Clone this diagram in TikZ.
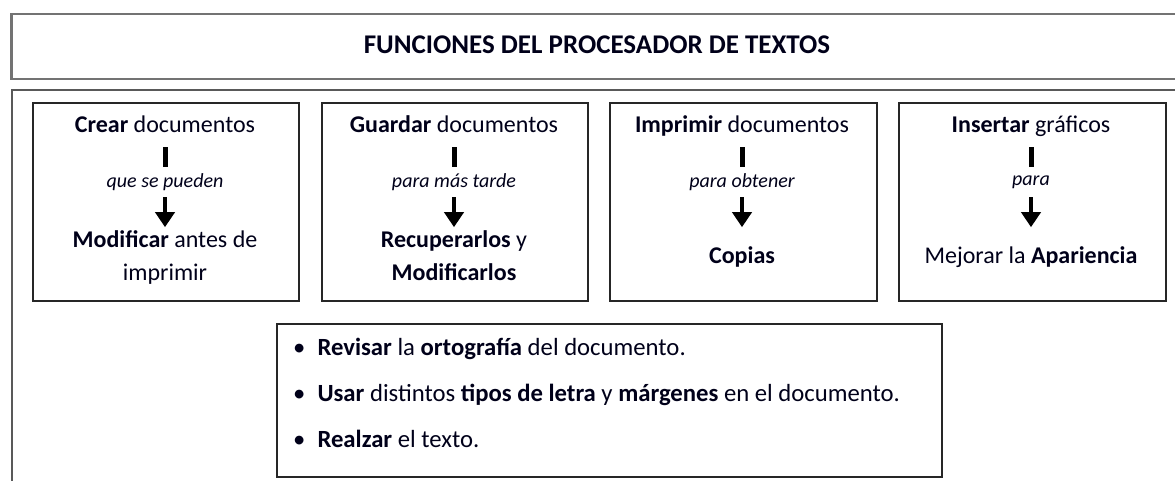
\documentclass[tikz,border=0pt]{standalone}
\usepackage{fontspec}
\setmainfont{Carlito}
\usetikzlibrary{arrows.meta}
\tikzset{
  x=1pt, y=-1pt,
  frame/.style={draw=black!55, line width=2.5pt},
  container/.style={draw=black!65, line width=2pt},
  box/.style={draw=black!85, line width=1.6pt, anchor=north west, inner sep=0pt},
  txt/.style={font=\fontsize{24}{33}\selectfont, text=black!90!blue, anchor=base, inner sep=0pt, align=center},
  lab/.style={font=\fontsize{20}{20}\selectfont\itshape, text=black!90!blue, inner sep=0pt, minimum height=30pt},
  barline/.style={line width=5pt, black},
  arr/.style={line width=4pt, black, -{Triangle[width=19pt,length=15pt]}},
  item/.style={font=\fontsize{24.7}{33}\selectfont, text=black!90!blue, anchor=base west, inner sep=0pt}
}
\begin{document}
\begin{tikzpicture}
\clip (0,0) rectangle (1175,481);
% title frame
\node[frame, anchor=north west, minimum width=1180pt, minimum height=65pt, inner sep=0pt] (title) at (10,13) {};
\node[txt, font=\fontsize{27}{30}\selectfont\bfseries] (titletext) at (597,54) {FUNCIONES DEL PROCESADOR DE TEXTOS};
% container
\node[container, anchor=north west, minimum width=1180pt, minimum height=400pt, inner sep=0pt] (cont) at (11,89) {};
% boxes
\node[box, minimum width=266pt, minimum height=198pt] (box1) at (32,102) {};
\node[box, minimum width=266pt, minimum height=198pt] (box2) at (321,102) {};
\node[box, minimum width=267pt, minimum height=198pt] (box3) at (609,102) {};
\node[box, minimum width=267pt, minimum height=198pt] (box4) at (898,102) {};
\node[box, minimum width=665pt, minimum height=153pt] (box5) at (276,323) {};
% box 1
\node[txt] (t1) at (165,133) {\textbf{Crear} documentos};
\node[lab] (l1) at (165,182) {que se pueden};
\node[txt] (b1) at (165,280) {\textbf{Modificar} antes de\\imprimir};
\draw[barline] (l1.north) -- ++(0,-20);
\draw[arr] (l1.south) -- ++(0,30);
% box 2
\node[txt] (t2) at (454,133) {\textbf{Guardar} documentos};
\node[lab] (l2) at (454,182) {para más tarde};
\node[txt] (b2) at (454,280) {\textbf{Recuperarlos} y\\\textbf{Modificarlos}};
\draw[barline] (l2.north) -- ++(0,-20);
\draw[arr] (l2.south) -- ++(0,30);
% box 3
\node[txt] (t3) at (742,133) {\textbf{Imprimir} documentos};
\node[lab] (l3) at (742,182) {para obtener};
\node[txt] (b3) at (742,263) {\textbf{Copias}};
\draw[barline] (l3.north) -- ++(0,-20);
\draw[arr] (l3.south) -- ++(0,30);
% box 4
\node[txt] (t4) at (1031,133) {\textbf{Insertar} gráficos};
\node[lab] (l4) at (1031,182) {para};
\node[txt] (b4) at (1031,263) {Mejorar la \textbf{Apariencia}};
\draw[barline] (l4.north) -- ++(0,-20);
\draw[arr] (l4.south) -- ++(0,30);
% bullet list
\node[item] (i1) at (293,355) {\textbullet\hspace{12pt}\textbf{Revisar} la \textbf{ortografía} del documento.};
\node[item] (i2) at (293,401) {\textbullet\hspace{12pt}\textbf{Usar} distintos \textbf{tipos de letra} y \textbf{márgenes} en el documento.};
\node[item] (i3) at (293,447) {\textbullet\hspace{12pt}\textbf{Realzar} el texto.};
\end{tikzpicture}
\end{document}
